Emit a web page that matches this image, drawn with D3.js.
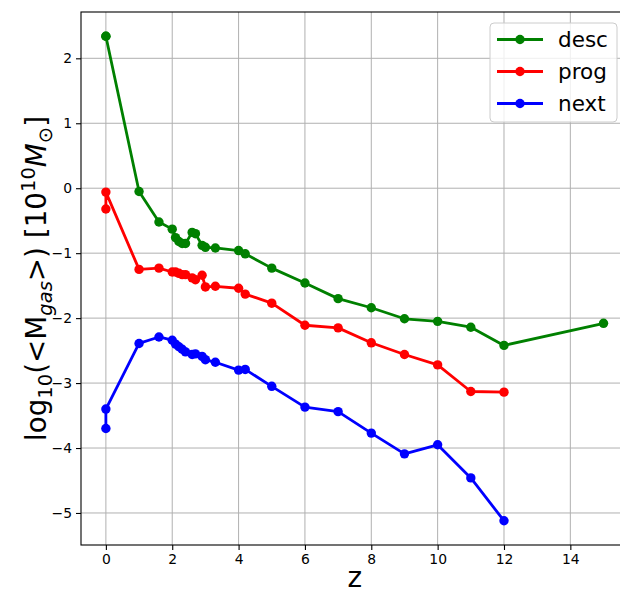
<!DOCTYPE html>
<html>
<head>
<meta charset="utf-8">
<script src="https://cdn.jsdelivr.net/npm/d3@7"></script>
<style>
  html, body { margin: 0; padding: 0; background: #fff; }
  svg { display: block; font-family: "DejaVu Sans", sans-serif; }
</style>
</head>
<body>
<svg id="chart" width="620" height="592"></svg>
<script>
// ---- data ----
const zValues = [0, 0, 1, 1.6, 2, 2.1, 2.2, 2.3, 2.4, 2.6, 2.7, 2.9, 3, 3.3, 4, 4.2, 5, 6, 7, 8, 9, 10, 11, 12, 15];
const descValues = [2.34, 2.34, -0.05, -0.52, -0.63, -0.76, -0.82, -0.85, -0.85, -0.68, -0.70, -0.88, -0.91, -0.92, -0.96, -1.01, -1.23, -1.46, -1.70, -1.84, -2.01, -2.05, -2.14, -2.42, -2.08];
const progValues = [-0.32, -0.06, -1.25, -1.23, -1.29, -1.29, -1.31, -1.33, -1.33, -1.38, -1.41, -1.34, -1.52, -1.51, -1.54, -1.63, -1.77, -2.11, -2.15, -2.38, -2.56, -2.72, -3.13, -3.14, null];
const nextValues = [-3.70, -3.40, -2.39, -2.29, -2.34, -2.40, -2.44, -2.48, -2.52, -2.56, -2.55, -2.59, -2.64, -2.68, -2.80, -2.79, -3.05, -3.37, -3.44, -3.77, -4.09, -3.95, -4.46, -5.12, null];
const seriesNames = ["desc", "prog", "next"];
const seriesColors = ["#008000", "#ff0000", "#0000ff"];
const xTicks = [0, 2, 4, 6, 8, 10, 12, 14];
const yTicks = [-5, -4, -3, -2, -1, 0, 1, 2];

(function () {
const series = [descValues, progValues, nextValues].map((vals, i) => ({
  name: seriesNames[i],
  color: seriesColors[i],
  points: zValues.map((z, j) => ({ z, v: vals[j] })).filter(p => p.v !== null)
}));

const svg = d3.select("#chart");
const pL = 81, pR = 628.4, pT = 12, pB = 545;

const allV = [...descValues, ...progValues, ...nextValues].filter(v => v !== null);
const vMin = d3.min(allV), vMax = d3.max(allV);
const vPad = (vMax - vMin) * 0.05;
const zMin = d3.min(zValues), zMax = d3.max(zValues);
const zPad = (zMax - zMin) * 0.05;

const x = d3.scaleLinear().domain([zMin - zPad, zMax + zPad]).range([pL, pR]);
const y = d3.scaleLinear().domain([vMin - vPad, vMax + vPad]).range([pB, pT]);

// grid
const grid = svg.append("g");
grid.selectAll(".gx").data(xTicks).join("line")
  .attr("x1", d => x(d)).attr("x2", d => x(d))
  .attr("y1", pT).attr("y2", pB)
  .attr("stroke", "#b0b0b0").attr("stroke-width", 1);
grid.selectAll(".gy").data(yTicks).join("line")
  .attr("x1", pL).attr("x2", pR)
  .attr("y1", d => y(d)).attr("y2", d => y(d))
  .attr("stroke", "#b0b0b0").attr("stroke-width", 1);

// axes
const xAxis = svg.append("g").attr("transform", `translate(0,${pB})`)
  .call(d3.axisBottom(x).tickValues(xTicks).tickSize(5).tickPadding(4).tickFormat(d3.format("d")));
const yAxis = svg.append("g").attr("transform", `translate(${pL},0)`)
  .call(d3.axisLeft(y).tickValues(yTicks).tickSize(5).tickPadding(4).tickFormat(d3.format("d")));
[xAxis, yAxis].forEach(a => {
  a.select(".domain").remove();
  a.selectAll("text").attr("font-size", 13.9).attr("fill", "#000").attr("font-family", "DejaVu Sans");
  a.selectAll("line").attr("stroke", "#000").attr("stroke-width", 1.1);
});

// spines
svg.append("rect").attr("x", pL).attr("y", pT)
  .attr("width", pR - pL).attr("height", pB - pT)
  .attr("fill", "none").attr("stroke", "#000").attr("stroke-width", 1.1);

// lines & markers
const line = d3.line().x(d => x(d.z)).y(d => y(d.v));
series.forEach(s => {
  svg.append("path").datum(s.points)
    .attr("d", line).attr("fill", "none")
    .attr("stroke", s.color).attr("stroke-width", 2.8)
    .attr("stroke-linejoin", "round").attr("stroke-linecap", "square");
  svg.append("g").selectAll("circle").data(s.points).join("circle")
    .attr("cx", d => x(d.z)).attr("cy", d => y(d.v)).attr("r", 4.7)
    .attr("fill", s.color);
});

// axis labels
svg.append("text").attr("x", (pL + pR) / 2).attr("y", 587)
  .attr("text-anchor", "middle").attr("font-size", 27.8).text("z");

const yl = svg.append("text")
  .attr("transform", `translate(46,${(pT + pB) / 2}) rotate(-90)`)
  .attr("text-anchor", "middle").attr("font-size", 27.8);
yl.append("tspan").text("log");
yl.append("tspan").attr("font-size", 19.5).attr("dy", 6).text("10");
yl.append("tspan").attr("dy", -6).text("(<M");
yl.append("tspan").attr("font-size", 19.5).attr("font-style", "italic").attr("dy", 6).text("gas");
yl.append("tspan").attr("dy", -6).text(">) [10");
yl.append("tspan").attr("font-size", 19.5).attr("dy", -11).text("10");
yl.append("tspan").attr("font-style", "italic").attr("dy", 11).text("M");
yl.append("tspan").attr("font-size", 19.5).attr("dy", 6).text("\u2299");
yl.append("tspan").attr("dy", -6).text("]");

// legend
const lg = svg.append("g");
lg.append("rect").attr("x", 490).attr("y", 23).attr("width", 127).attr("height", 99)
  .attr("rx", 4).attr("fill", "#fff").attr("fill-opacity", 0.8)
  .attr("stroke", "#cccccc").attr("stroke-width", 1);
series.forEach((s, i) => {
  const cy = 39.5 + i * 32;
  lg.append("line").attr("x1", 497).attr("x2", 543).attr("y1", cy).attr("y2", cy)
    .attr("stroke", s.color).attr("stroke-width", 2.8);
  lg.append("circle").attr("cx", 520).attr("cy", cy).attr("r", 4.7).attr("fill", s.color);
  lg.append("text").attr("x", 558).attr("y", cy + 7.5).attr("font-size", 21.5).text(s.name);
});
})();
</script>
</body>
</html>
